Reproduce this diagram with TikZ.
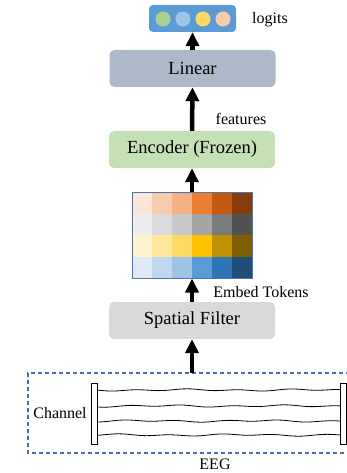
\documentclass[tikz,border=0pt]{standalone}
\usepackage{fontspec}
\setmainfont{Liberation Serif}
\usetikzlibrary{arrows.meta}

\definecolor{logitblue}{HTML}{5B9BD5}
\definecolor{lingray}{HTML}{ADB9CA}
\definecolor{encgreen}{HTML}{C5E0B4}
\definecolor{filtgray}{HTML}{D9D9D9}
\definecolor{eegline}{HTML}{4A6AA8}
\definecolor{gridedge}{HTML}{4F72B0}

\tikzset{
	block/.style={rounded corners=5pt,minimum width=166pt,minimum height=37pt,inner sep=0pt,font=\fontsize{18.5}{20}\selectfont},
	lbl/.style={inner sep=0pt,font=\fontsize{16}{18}\selectfont},
	flow/.style={line width=4.5pt,-{Triangle[length=14pt,width=13pt]}}
}

\begin{document}
\begin{tikzpicture}[x=1pt,y=-1pt,smooth]
			\useasboundingbox (0,0) rectangle (347,473);
			% output head
			\node[fill=logitblue,rounded corners=4pt,minimum width=87pt,minimum height=27pt] (logits) at (192.5,18.5) {};
			\foreach \c [count=\i] in {A9D18E,9DC3E6,FFD966,F8CBAD}{
				\definecolor{dot}{HTML}{\c}
				\fill[dot] (143+20*\i,19) circle(7.5);
			}
			\node[lbl] at (270,20) {logits};
			\node[block,fill=lingray] (linear) at (192.5,68.5) {Linear};
			\node[block,fill=encgreen] (encoder) at (192,149.5) {Encoder (Frozen)};
			\node[lbl] at (241,119) {features};
			% token grid, one row per colour ramp
			\foreach \row [count=\j] in {{FBE5D6,F8CBAD,F4B183,ED7D31,C55A11,843C0C},
				{EDEDED,DBDBDB,C9C9C9,A5A5A5,7B7B7B,525252},
				{FFF2CC,FFE699,FFD966,FFC000,BF9000,7F6000},
				{DEEBF7,BDD7EE,9DC3E6,5B9BD5,2E75B6,1F4E79}}{
				\foreach \c [count=\i] in \row{
					\definecolor{cell}{HTML}{\c}
					\fill[cell] (112+20*\i,170.5+21.5*\j) rectangle (132+20*\i,192+21.5*\j);
				}
			}
			\node[draw=gridedge,line width=1pt,minimum width=120pt,minimum height=86pt,inner sep=0pt] (tokens) at (192,235) {};
			\node[lbl] at (261,292) {Embed Tokens};
			\node[block,fill=filtgray] (filter) at (192,320.5) {Spatial Filter};
			% EEG input
			\draw[eegline,line width=1.1pt,dash pattern=on 4pt off 3pt] (350,373)--(28,373)--(28,453)--(350,453);
			\coordinate (eeg) at (192,373);
			\draw[line width=0.8pt,fill=white] (91,383) rectangle (97,444) (340,383) rectangle (346,444);
			\foreach \yy [count=\k] in {390,406,421,435}
				\draw[line width=0.8pt,domain=97:340,samples=60] plot(\x,{\yy+0.7*sin(7*\x+40*\k)+0.5*sin(3*\x+70*\k)});
			\node[lbl] at (60,413) {Channel};
			\node[lbl] at (215,464) {EEG};
			% data flow
			\draw[flow] (eeg)--(filter.south);
			\draw[flow] (filter.north)--(tokens.south);
			\draw[flow] (tokens.north)--(encoder.south);
			\draw[flow] (encoder.north)--(linear.south);
			\draw[flow] (linear.north)--(logits.south);
	\end{tikzpicture}
\end{document}
